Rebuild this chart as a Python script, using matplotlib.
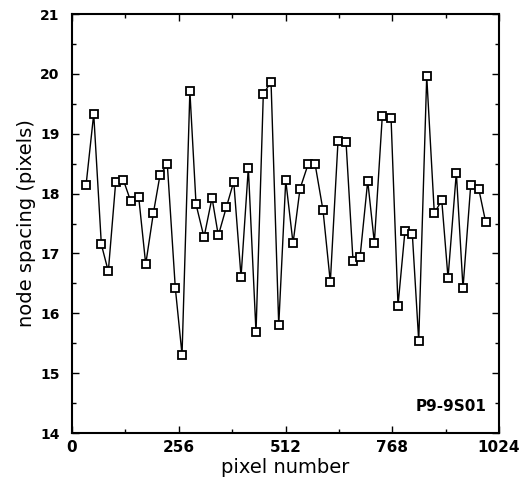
import numpy as np
import matplotlib.pyplot as plt
from matplotlib.ticker import MultipleLocator

# node positions (pixel number) and spacing
pixel = [33.6, 52.0, 70.3, 87.0, 104.8, 123.0, 140.8, 159.9, 176.7, 195.0,
         211.0, 228.5, 247.7, 263.8, 282.6, 297.4, 316.5, 335.7, 350.8, 370.0,
         387.8, 405.3, 422.8, 441.2, 458.7, 477.2, 495.7, 512.5, 530.0, 546.7,
         566.6, 582.7, 601.9, 619.4, 637.9, 657.1, 673.9, 690.7, 709.1, 725.0,
         744.1, 765.0, 781.7, 798.5, 816.0, 831.4, 850.6, 868.8, 886.6, 901.7,
         921.6, 937.6, 956.1, 975.3, 992.1]
spacing = [18.14, 19.33, 17.15, 16.70, 18.20, 18.23, 17.87, 17.94, 16.82, 17.67,
           18.31, 18.49, 16.42, 15.31, 19.71, 17.82, 17.27, 17.93, 17.30, 17.77,
           18.20, 16.61, 18.43, 15.68, 19.66, 19.87, 15.80, 18.22, 17.17, 18.08,
           18.50, 18.50, 17.72, 16.52, 18.88, 18.86, 16.87, 16.94, 18.21, 17.18,
           19.30, 19.27, 16.13, 17.38, 17.33, 15.54, 19.96, 17.67, 17.89, 16.59,
           18.35, 16.42, 18.14, 18.08, 17.52]

xticks = [0, 256, 512, 768, 1024]
yticks = [14, 15, 16, 17, 18, 19, 20, 21]

fig = plt.figure(figsize=(5.22, 4.83), dpi=100)
ax = fig.add_axes([0.138, 0.1035, 0.818, 0.8675])

ax.plot(pixel, spacing, color="k", lw=1.0, marker="s", markersize=6,
        markerfacecolor="white", markeredgecolor="k", markeredgewidth=1.3)

ax.set_xlim(0, 1024)
ax.set_ylim(14, 21)
ax.set_xticks(xticks)
ax.set_yticks(yticks)
ax.xaxis.set_minor_locator(MultipleLocator(128))
ax.yaxis.set_minor_locator(MultipleLocator(0.5))
ax.tick_params(which="both", direction="in", top=True, right=True, width=1)
ax.tick_params(which="major", length=5)
ax.tick_params(which="minor", length=3)
ax.tick_params(axis="x", which="major", labelsize=11, pad=5)
ax.tick_params(axis="y", which="major", labelsize=10, pad=9)
for lbl in ax.get_xticklabels() + ax.get_yticklabels():
    lbl.set_fontweight("bold")
for s in ax.spines.values():
    s.set_linewidth(1.5)

ax.set_xlabel("pixel number", fontsize=14, labelpad=2)
ax.set_ylabel("node spacing (pixels)", fontsize=14, labelpad=3)
ax.text(0.97, 0.045, "P9-9S01", transform=ax.transAxes, ha="right",
        va="bottom", fontsize=11, fontweight="bold")

fig.savefig("out.png", dpi=100)
